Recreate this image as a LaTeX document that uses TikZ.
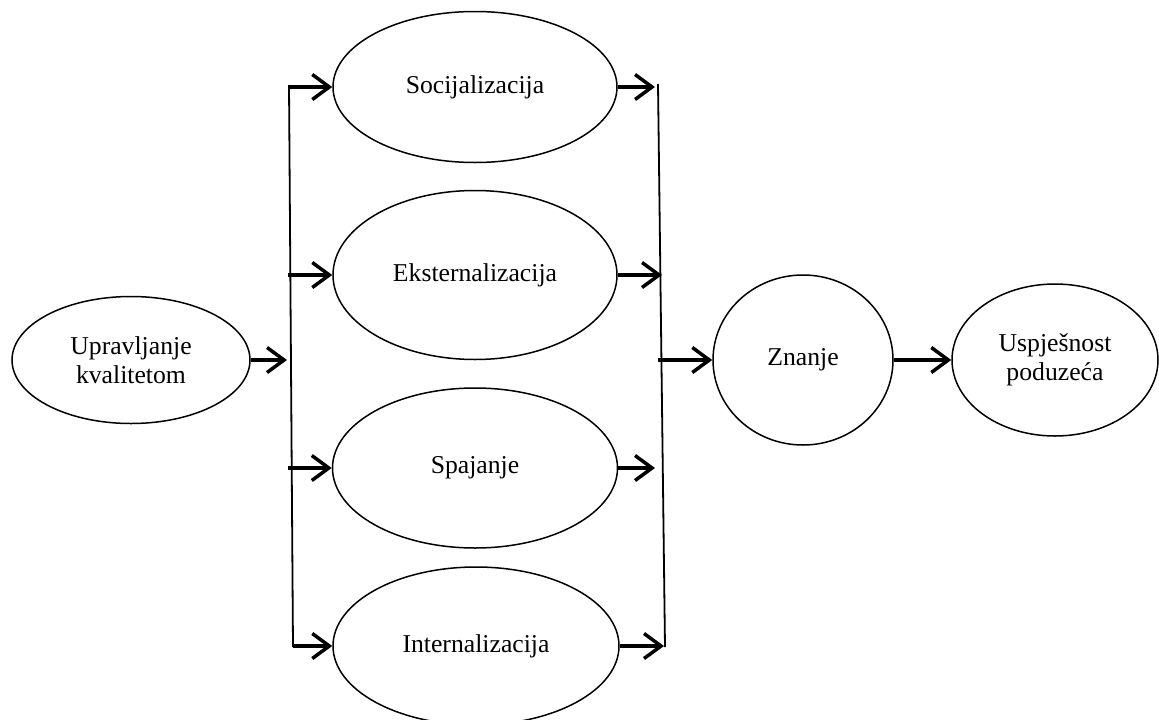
\documentclass[tikz,border=0pt]{standalone}
\usepackage{fontspec}
\setmainfont{Liberation Serif}
\usetikzlibrary{positioning,shapes.geometric,arrows.meta}

\begin{document}
\begin{tikzpicture}[
	x=1pt, y=-1pt,
	oval/.style={ellipse, draw=black, line width=1.5pt, inner sep=0pt, align=center, font=\fontsize{25.7}{29}\selectfont},
	arrow/.style={-{Straight Barb[length=17pt,width=25pt,line width=3.5pt]}, line width=3.5pt},
	bar/.style={line width=1.8pt}
]
\useasboundingbox (0,0) rectangle (1159,720);
% ellipses
\node (quality) [oval, minimum width=238pt, minimum height=127pt] at (131,360) {Upravljanje\\kvalitetom};
\node (social) [oval, minimum width=284pt, minimum height=151pt] at (475,87) {Socijalizacija};
\node (extern) [oval, minimum width=284pt, minimum height=169pt] at (475,275) {Eksternalizacija};
\node (combine) [oval, minimum width=285pt, minimum height=160pt] at (475,468) {Spajanje};
\node (intern) [oval, minimum width=286pt, minimum height=158pt] at (476,646) {Internalizacija};
\node (knowledge) [oval, minimum width=180pt, minimum height=170pt] at (803,360) {Znanje};
\node (success) [oval, minimum width=206pt, minimum height=152pt] at (1055,360) {Uspješnost\\poduzeća};
% left bar
\coordinate (ltop) at (289,85);
\coordinate (lbot) at (293,647);
\coordinate (lin) at (287,360);
\coordinate (l1) at (289,87);
\coordinate (l2) at (288,275);
\coordinate (l3) at (288,468);
\coordinate (l4) at (293,646);
% right bar
\coordinate (rtop) at (658,84);
\coordinate (rbot) at (665,647);
\coordinate (rout) at (658,360);
\coordinate (r1) at (655,87);
\coordinate (r2) at (662,275);
\coordinate (r3) at (655,468);
\coordinate (r4) at (664,646);
\draw [bar] (ltop) -- (lbot);
\draw [bar] (rtop) -- (rbot);
\draw [arrow] (quality.east) -- (lin);
\draw [arrow] (l1) -- (social.west);
\draw [arrow] (l2) -- (extern.west);
\draw [arrow] (l3) -- (combine.west);
\draw [arrow] (l4) -- (intern.west);
\draw [arrow] (social.east) -- (r1);
\draw [arrow] (extern.east) -- (r2);
\draw [arrow] (combine.east) -- (r3);
\draw [arrow] (intern.east) -- (r4);
\draw [arrow] (rout) -- (knowledge.west);
\draw [arrow] (knowledge.east) -- (success.west);
\end{tikzpicture}
\end{document}
